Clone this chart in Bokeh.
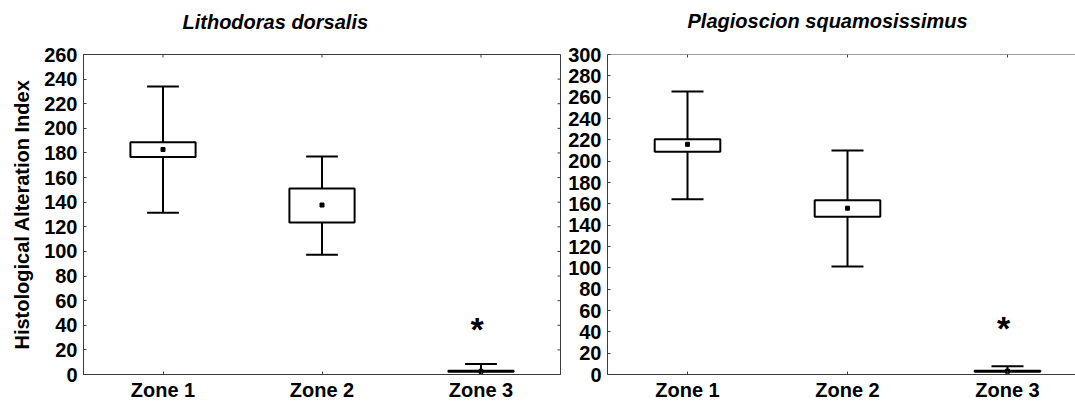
import math
from bokeh.plotting import figure
from bokeh.models import Range1d, FixedTicker, Span, Title
from bokeh.layouts import row
from bokeh.embed import file_html
from bokeh.resources import INLINE
from bokeh.core.properties import value

categories = ["Zone 1", "Zone 2", "Zone 3"]
y_label = "Histological Alteration Index"

# Lithodoras dorsalis : mean, box (mean ± SE), whiskers (mean ± SD)
ld_title = "Lithodoras dorsalis"
ld_mean = [182.8, 137.7, 2.6]
ld_box_low = [176.7, 123.4, 2.2]
ld_box_high = [188.8, 151.1, 3.0]
ld_whisk_low = [131.5, 97.3, -3.4]
ld_whisk_high = [233.9, 177.2, 8.6]
ld_ticks = list(range(0, 261, 20))
ld_sig_y = 37

# Plagioscion squamosissimus
ps_title = "Plagioscion squamosissimus"
ps_mean = [215.8, 155.9, 3.1]
ps_box_low = [208.9, 147.8, 2.6]
ps_box_high = [220.5, 163.4, 3.6]
ps_whisk_low = [164.3, 101.3, -1.6]
ps_whisk_high = [265.4, 209.9, 7.8]
ps_ticks = list(range(0, 301, 20))
ps_sig_y = 44

sig_zone = "Zone 3"
sig_mark = "*"

FONT = "Liberation Sans"
AXC = "#3c3c3c"


def style_axis(ax):
    ax.axis_line_color = AXC
    ax.axis_line_width = 1
    ax.major_tick_line_color = AXC
    ax.major_tick_in = 3
    ax.major_tick_out = 0
    ax.minor_tick_line_color = None
    ax.major_label_text_font = FONT
    ax.major_label_text_font_style = "bold"
    ax.major_label_text_color = "black"
    ax.major_label_text_font_size = "20px"


def panel(title, mean, blo, bhi, wlo, whi, ticks, sig_y, width, height,
          x_end, border_left, border_right, border_top, title_offset,
          title_gap, show_ylabel, right_side):
    xs = [i + 1 for i in range(len(categories))]
    y0, y1 = ticks[0], ticks[-1]
    p = figure(width=width, height=height, output_backend="svg", title=None,
               toolbar_location=None, x_range=Range1d(0.5, x_end),
               y_range=Range1d(y0, y1),
               min_border_left=border_left, min_border_right=border_right,
               min_border_top=border_top, min_border_bottom=29,
               background_fill_color="white", border_fill_color="white")
    p.xgrid.grid_line_color = None
    p.ygrid.grid_line_color = None
    if right_side:
        p.outline_line_color = AXC
        p.outline_line_width = 1
    else:
        p.outline_line_color = None
        p.add_layout(Span(location=y1, dimension="width", line_color=AXC,
                          line_width=1))

    # blank spacer between frame and title (stacked nearest the frame)
    p.add_layout(Title(text=" ", text_font=FONT, text_font_size="10px",
                       text_color="black", standoff=title_gap), "above")
    p.add_layout(Title(text=title, align="left", vertical_align="bottom",
                       offset=title_offset, standoff=0, text_font=FONT,
                       text_font_style="bold italic", text_font_size="20px",
                       text_color="black"), "above")

    p.xaxis.ticker = FixedTicker(ticks=xs)
    p.xaxis.major_label_overrides = {x: c for x, c in zip(xs, categories)}
    p.yaxis.ticker = FixedTicker(ticks=ticks)
    style_axis(p.xaxis[0])
    style_axis(p.yaxis[0])
    p.xaxis.major_label_standoff = 4
    p.yaxis.major_label_standoff = 6
    if show_ylabel:
        p.yaxis.axis_label = y_label
        p.yaxis.axis_label_text_font = FONT
        p.yaxis.axis_label_text_font_style = "bold"
        p.yaxis.axis_label_text_font_size = "20px"
        p.yaxis.axis_label_text_color = "black"
        p.yaxis.axis_label_standoff = 8

    # mirrored inward ticks on top (and right for the first panel)
    p.ray(x=xs, y=[y1] * len(xs), length=3, length_units="screen",
          angle=-math.pi / 2, line_color=AXC, line_width=1)
    if right_side:
        p.ray(x=[x_end] * len(ticks), y=ticks, length=3, length_units="screen",
              angle=math.pi, line_color=AXC, line_width=1)

    cap = 0.1
    p.segment(x0=xs, y0=wlo, x1=xs, y1=whi, line_color="black", line_width=2)
    p.segment(x0=[x - cap for x in xs], y0=whi, x1=[x + cap for x in xs], y1=whi,
              line_color="black", line_width=2)
    p.segment(x0=[x - cap for x in xs], y0=wlo, x1=[x + cap for x in xs], y1=wlo,
              line_color="black", line_width=2)
    p.vbar(x=xs, width=0.41, bottom=blo, top=bhi, fill_color="white",
           line_color="black", line_width=2)
    p.scatter(x=xs, y=mean, marker="square", size=4, fill_color="black",
              line_color="black")

    sx = categories.index(sig_zone) + 1
    p.text(x=[sx], y=[sig_y], text=[sig_mark], x_offset=-4,
           text_align="center", text_baseline="alphabetic",
           text_font=value(FONT), text_font_style="bold",
           text_font_size="34px", text_color="black")
    return p


p1 = panel(ld_title, ld_mean, ld_box_low, ld_box_high, ld_whisk_low, ld_whisk_high,
           ld_ticks, ld_sig_y, width=564, height=403, x_end=3.5,
           border_left=83, border_right=4, border_top=51, title_offset=99,
           title_gap=9, show_ylabel=True, right_side=True)
p2 = panel(ps_title, ps_mean, ps_box_low, ps_box_high, ps_whisk_low, ps_whisk_high,
           ps_ticks, ps_sig_y, width=511, height=403, x_end=3.425,
           border_left=43, border_right=0, border_top=54, title_offset=80,
           title_gap=10, show_ylabel=False, right_side=False)

layout = row(p1, p2)
open("out.html", "w").write(file_html(layout, INLINE))
